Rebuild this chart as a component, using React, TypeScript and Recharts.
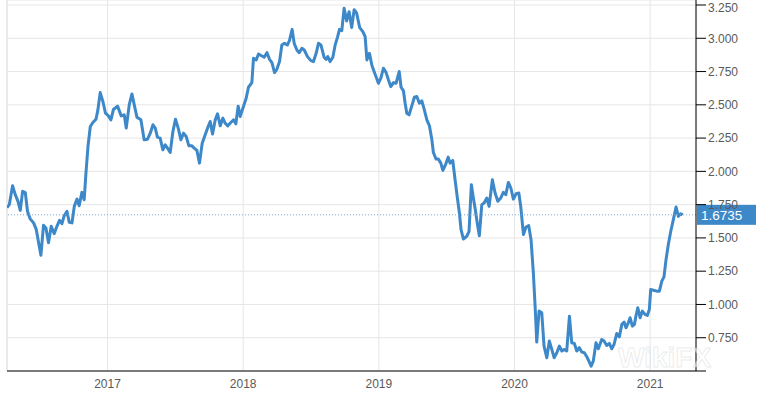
import React from 'react';
import { LineChart, Line, XAxis, YAxis, CartesianGrid, ReferenceLine } from 'recharts';

const W = 761;
const H = 398;

// Time axis in decimal years
const dates = [
  2016.259, 2016.276, 2016.300, 2016.320, 2016.340, 2016.357, 2016.374, 2016.394, 2016.410, 2016.430,
  2016.455, 2016.475, 2016.492, 2016.509, 2016.528, 2016.546, 2016.565, 2016.585, 2016.607, 2016.627,
  2016.646, 2016.664, 2016.681, 2016.701, 2016.718, 2016.738, 2016.755, 2016.775, 2016.791, 2016.811,
  2016.828, 2016.841, 2016.856, 2016.873, 2016.892, 2016.915, 2016.929, 2016.946, 2016.966, 2016.985,
  2017.007, 2017.025, 2017.044, 2017.074,
  2017.101, 2017.123, 2017.138, 2017.160, 2017.180, 2017.197, 2017.217, 2017.246, 2017.270, 2017.295,
  2017.315, 2017.335, 2017.352, 2017.368, 2017.388, 2017.408, 2017.425, 2017.442, 2017.462, 2017.482,
  2017.501, 2017.523, 2017.541, 2017.560, 2017.580, 2017.600, 2017.622, 2017.639, 2017.659, 2017.678,
  2017.698, 2017.720, 2017.740, 2017.757, 2017.774, 2017.794, 2017.811, 2017.831, 2017.850, 2017.867,
  2017.887, 2017.909, 2017.929, 2017.946,
  2017.963, 2017.978, 2018.002, 2018.022, 2018.039, 2018.064, 2018.076, 2018.096, 2018.113, 2018.138,
  2018.155, 2018.175, 2018.194, 2018.212, 2018.231, 2018.248, 2018.268, 2018.285, 2018.304, 2018.326,
  2018.341, 2018.361, 2018.376, 2018.396, 2018.413, 2018.433, 2018.450, 2018.474, 2018.499, 2018.518,
  2018.538, 2018.555, 2018.573, 2018.597, 2018.612, 2018.624, 2018.641, 2018.661, 2018.678, 2018.695,
  2018.710, 2018.727, 2018.744, 2018.763, 2018.781, 2018.800, 2018.818, 2018.836, 2018.859,
  2018.882, 2018.899, 2018.912, 2018.931, 2018.948, 2018.965, 2018.997, 2019.015, 2019.034, 2019.054,
  2019.071, 2019.088, 2019.108, 2019.127, 2019.150, 2019.164, 2019.181, 2019.194, 2019.206, 2019.223,
  2019.243, 2019.262, 2019.280, 2019.299, 2019.317, 2019.334, 2019.354, 2019.373, 2019.391, 2019.402,
  2019.422, 2019.439, 2019.457, 2019.472, 2019.494, 2019.511, 2019.525, 2019.545, 2019.562, 2019.579,
  2019.594, 2019.606, 2019.623, 2019.648, 2019.665, 2019.682, 2019.699, 2019.713, 2019.727, 2019.741,
  2019.759,
  2019.776, 2019.796, 2019.813, 2019.837, 2019.857, 2019.877, 2019.899, 2019.918, 2019.936, 2019.955,
  2019.973, 2019.992, 2020.012, 2020.032, 2020.046, 2020.066, 2020.085, 2020.105, 2020.122, 2020.139,
  2020.152, 2020.164, 2020.181, 2020.201, 2020.218, 2020.238, 2020.257, 2020.275, 2020.292, 2020.312,
  2020.331, 2020.349, 2020.366, 2020.385, 2020.405, 2020.422, 2020.441, 2020.459, 2020.478, 2020.496,
  2020.515, 2020.533, 2020.552, 2020.565, 2020.581,
  2020.601, 2020.618, 2020.643, 2020.660, 2020.680, 2020.699, 2020.717, 2020.734, 2020.754, 2020.773,
  2020.791, 2020.808, 2020.822, 2020.839, 2020.852, 2020.869, 2020.884, 2020.896, 2020.909, 2020.926,
  2020.943, 2020.962, 2020.979, 2020.994, 2021.004, 2021.024, 2021.049, 2021.068, 2021.086, 2021.102,
  2021.117, 2021.134, 2021.152, 2021.171, 2021.191, 2021.208, 2021.226, 2021.240,
];

const yields = [
  1.727, 1.75, 1.892, 1.825, 1.775, 1.707, 1.85, 1.84, 1.70, 1.643,
  1.613, 1.562, 1.463, 1.37, 1.595, 1.575, 1.463, 1.587, 1.532, 1.587,
  1.632, 1.607, 1.667, 1.70, 1.617, 1.613, 1.737, 1.792, 1.742, 1.842,
  1.787, 1.987, 2.187, 2.337, 2.367, 2.392, 2.462, 2.592, 2.525, 2.437,
  2.417, 2.387, 2.465, 2.49,
  2.417, 2.425, 2.325, 2.5, 2.582, 2.5, 2.407, 2.387, 2.237, 2.242,
  2.287, 2.35, 2.325, 2.257, 2.25, 2.162, 2.2, 2.175, 2.142, 2.30,
  2.392, 2.317, 2.237, 2.287, 2.262, 2.192, 2.192, 2.175, 2.157, 2.062,
  2.212, 2.275, 2.332, 2.375, 2.28, 2.387, 2.432, 2.342, 2.40, 2.362,
  2.342, 2.367, 2.387, 2.357,
  2.49, 2.412, 2.487, 2.55, 2.632, 2.667, 2.85, 2.837, 2.882, 2.867,
  2.857, 2.892, 2.842, 2.817, 2.742, 2.767, 2.825, 2.95, 2.962, 2.95,
  2.982, 3.067, 2.962, 2.912, 2.892, 2.925, 2.912, 2.862, 2.832, 2.825,
  2.887, 2.962, 2.95, 2.857, 2.842, 2.862, 2.825, 2.857, 2.95, 3.007,
  3.067, 3.057, 3.225, 3.13, 3.20, 3.08, 3.215, 3.19, 3.08,
  3.05, 3.012, 2.837, 2.887, 2.80, 2.75, 2.662, 2.70, 2.775, 2.742,
  2.687, 2.637, 2.667, 2.662, 2.75, 2.632, 2.607, 2.512, 2.437, 2.425,
  2.492, 2.557, 2.562, 2.512, 2.53, 2.467, 2.387, 2.342, 2.237, 2.142,
  2.092, 2.092, 2.062, 2.007, 2.057, 2.107, 2.062, 2.082, 1.937, 1.80,
  1.687, 1.562, 1.492, 1.512, 1.55, 1.90, 1.787, 1.70, 1.60, 1.517,
  1.75,
  1.762, 1.80, 1.737, 1.937, 1.837, 1.775, 1.80, 1.842, 1.825, 1.917,
  1.875, 1.792, 1.832, 1.837, 1.737, 1.525, 1.582, 1.592, 1.487, 1.237,
  0.987, 0.717, 0.95, 0.937, 0.687, 0.60, 0.725, 0.662, 0.60, 0.637,
  0.687, 0.65, 0.662, 0.65, 0.912, 0.712, 0.707, 0.65, 0.675, 0.642,
  0.637, 0.607, 0.567, 0.537, 0.575,
  0.712, 0.667, 0.737, 0.725, 0.692, 0.707, 0.667, 0.70, 0.782, 0.757,
  0.85, 0.867, 0.825, 0.862, 0.90, 0.837, 0.85, 0.917, 0.975, 0.90,
  0.95, 0.925, 0.917, 0.962, 1.112, 1.107, 1.10, 1.10, 1.175, 1.207,
  1.337, 1.45, 1.55, 1.637, 1.732, 1.662, 1.682, 1.6735,
];

const xTicks = [2017, 2018, 2019, 2020, 2021];
const yTicks = [0.5, 0.75, 1.0, 1.25, 1.5, 1.75, 2.0, 2.25, 2.5, 2.75, 3.0, 3.25];
const lastValue = 1.6735;
const lastLabel = '1.6735';
const watermark = 'WikiFX';

const X_MIN = 2016.259;
const X_MAX = 2021.338;
const Y_MIN = 0.5;
const Y_MAX = 3.2876;

const data = dates.map((t, i) => ({ t, v: yields[i] }));

const LINE_COLOR = '#3d88c9';

const Badge = (props: any) => {
  const vb = props.viewBox || {};
  const x = (vb.x || 0) + (vb.width || 0) + 1;
  const y = vb.y || 0;
  return (
    <g>
      <rect x={x} y={y - 10} width={59} height={20} fill={LINE_COLOR} />
      <text x={x + 4} y={y + 5} fill="#fff" fontSize={13.5} fontFamily="Arial, 'Liberation Sans', sans-serif">
        {lastLabel}
      </text>
    </g>
  );
};

export default function App() {
  return (
    <div
      style={{
        position: 'absolute',
        left: 0,
        top: 0,
        width: W,
        height: H,
        background: '#fff',
        fontFamily: "Arial, 'Liberation Sans', sans-serif",
      }}
    >
      <LineChart width={W} height={H} data={data} margin={{ top: 0, right: 0, bottom: 0, left: 7 }}>
        <CartesianGrid stroke="#e6e6e6" strokeWidth={1} />
        <ReferenceLine x={X_MIN} stroke="#e0e0e0" ifOverflow="extendDomain" />
        <XAxis
          dataKey="t"
          type="number"
          domain={[X_MIN, X_MAX]}
          ticks={xTicks}
          tickFormatter={(v: number) => String(Math.round(v))}
          axisLine={{ stroke: '#000' }}
          tickLine={false}
          tick={{ fill: '#5a5a5a', fontSize: 12 }}
          height={27}
          allowDataOverflow
        />
        <YAxis
          orientation="right"
          type="number"
          domain={[Y_MIN, Y_MAX]}
          ticks={yTicks}
          tickFormatter={(v: number) => (v === Y_MIN ? '' : v.toFixed(3))}
          width={65}
          axisLine={{ stroke: '#000' }}
          tickLine={{ stroke: '#000' }}
          tickSize={10}
          tickMargin={2}
          tick={{ fill: '#5a5a5a', fontSize: 12 }}
          allowDataOverflow
        />
        <Line
          type="linear"
          dataKey="v"
          stroke={LINE_COLOR}
          strokeWidth={3}
          dot={false}
          strokeLinejoin="round"
          isAnimationActive={false}
        />
        <ReferenceLine y={lastValue} stroke="#7fa8cf" strokeDasharray="1 2" label={<Badge />} />
      </LineChart>
      <div
        style={{
          position: 'absolute',
          left: 618,
          top: 346,
          fontSize: 28,
          fontWeight: 'bold',
          color: 'rgba(255,255,255,0.55)',
          WebkitTextStroke: '1px rgba(200,200,200,0.35)',
          pointerEvents: 'none',
          lineHeight: '24px',
        }}
      >
        {watermark}
      </div>
    </div>
  );
}
